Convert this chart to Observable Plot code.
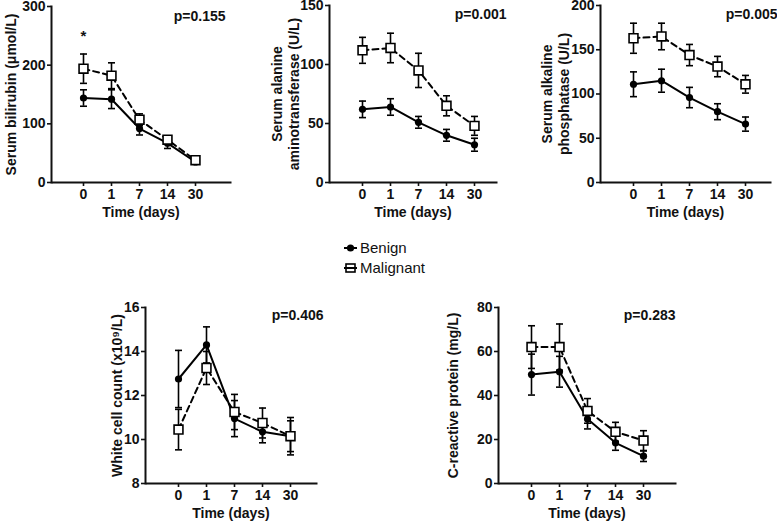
<!DOCTYPE html>
<html>
<head>
<meta charset="utf-8">
<script src="https://cdn.jsdelivr.net/npm/d3@7"></script>
<script src="https://cdn.jsdelivr.net/npm/@observablehq/plot@0.6"></script>
<style>
  html, body { margin: 0; padding: 0; background: white; }
  #chart { position: relative; width: 777px; height: 522px; overflow: hidden; font-family: Arial, "Liberation Sans", sans-serif; }
  #chart svg { position: absolute; left: 0; top: 0; pointer-events: none; }
  #legend { position: absolute; left: 344px; top: 238px; font-size: 15px; color: #111; line-height: 20px; }
  #legend div { display: flex; align-items: center; height: 20px; }
  #legend svg { position: static; margin-right: 3px; }
</style>
</head>
<body>
<div id="chart">
  <div id="legend">
    <div><svg width="13" height="10"><line x1="0" y1="5" x2="13" y2="5" stroke="black" stroke-width="2"/><circle cx="6.5" cy="5" r="3.6" fill="black"/></svg><span>Benign</span></div>
    <div><svg width="13" height="10"><rect x="2" y="1" width="9" height="8" fill="white" stroke="black" stroke-width="1.6"/><line x1="0" y1="5" x2="13" y2="5" stroke="black" stroke-width="2"/></svg><span>Malignant</span></div>
  </div>
</div>
<script>
// ---- data ----
const days = ["0", "1", "7", "14", "30"];
const seriesNames = ["Benign", "Malignant"];

const bilirubinBenign = [144, 142, 92, 67, 35];
const bilirubinBenignErr = [14, 16, 11, 9, 3];
const bilirubinMalignant = [194, 182, 107, 73, 38];
const bilirubinMalignantErr = [25, 22, 10, 5, 3];
const bilirubinTicks = [0, 100, 200, 300];

const altBenign = [62, 64, 51, 40, 32];
const altBenignErr = [7, 7, 5, 5, 5.5];
const altMalignant = [112, 114, 95, 65, 48];
const altMalignantErr = [11, 12.5, 14.5, 8.5, 8];
const altTicks = [0, 50, 100, 150];

const alpBenign = [111, 115, 96, 80, 66];
const alpBenignErr = [14, 13, 11.5, 9, 8];
const alpMalignant = [163, 165, 144, 131, 111];
const alpMalignantErr = [17, 15, 12, 11.5, 10];
const alpTicks = [0, 50, 100, 150, 200];

const wbcBenign = [12.75, 14.3, 10.95, 10.35, 10.15];
const wbcBenignErr = [1.3, 0.82, 0.82, 0.5, 0.7];
const wbcMalignant = [10.45, 13.25, 11.25, 10.75, 10.15];
const wbcMalignantErr = [0.92, 0.75, 0.8, 0.68, 0.85];
const wbcTicks = [8, 10, 12, 14, 16];

const crpBenign = [49.5, 50.8, 29.3, 18.5, 12.4];
const crpBenignErr = [9.3, 7, 4.5, 3.4, 2.4];
const crpMalignant = [62, 62, 33, 23.5, 19.5];
const crpMalignantErr = [9.7, 10.5, 5.6, 4.3, 4.5];
const crpTicks = [0, 20, 40, 60, 80];

const pValues = ["p=0.155", "p=0.001", "p=0.005", "p=0.406", "p=0.283"];
const yLabels = [
  "Serum bilirubin (\u03bcmol/L)",
  "Serum alanine\naminotransferase (U/L)",
  "Serum alkaline\nphosphatase (U/L)",
  "White cell count (x10\u2079/L)",
  "C-reactive protein (mg/L)"
];
const xLabel = "Time (days)";
const bilirubinAnnotation = [{day: "0", value: 250, text: "*"}];

// ---- layout (pixels) ----
const W = 777, H = 522;
const panels = [
  {b: bilirubinBenign, be: bilirubinBenignErr, m: bilirubinMalignant, me: bilirubinMalignantErr, ticks: bilirubinTicks,
   left: 51, right: 230, top: 6, bottom: 182, inL: 17, inR: 21, labDx: -41, pDx: -5, pDy: 10, notes: bilirubinAnnotation},
  {b: altBenign, be: altBenignErr, m: altMalignant, me: altMalignantErr, ticks: altTicks,
   left: 329, right: 496, top: 5, bottom: 182, inL: 18, inR: 7, labDx: -44, pDx: 10, pDy: 9, notes: []},
  {b: alpBenign, be: alpBenignErr, m: alpMalignant, me: alpMalignantErr, ticks: alpTicks,
   left: 600, right: 770, top: 5, bottom: 182, inL: 18, inR: 11, labDx: -45, pDx: 7, pDy: 9, notes: []},
  {b: wbcBenign, be: wbcBenignErr, m: wbcMalignant, me: wbcMalignantErr, ticks: wbcTicks,
   left: 145, right: 316, top: 307, bottom: 483, inL: 17, inR: 11, labDx: -29, pDx: 7, pDy: 8, notes: []},
  {b: crpBenign, be: crpBenignErr, m: crpMalignant, me: crpMalignantErr, ticks: crpTicks,
   left: 498, right: 675, top: 307, bottom: 483, inL: 18, inR: 17, labDx: -46, pDx: 0, pDy: 8, notes: []}
];

const cap = {
  draw(context, size) {
    const r = Math.sqrt(size / Math.PI);
    context.moveTo(-r, 0);
    context.lineTo(r, 0);
  }
};

const chart = document.getElementById("chart");

panels.forEach((p, i) => {
  const rows = (vals, errs, group) => days.map((d, k) => ({day: d, group, mean: vals[k], lo: vals[k] - errs[k], hi: vals[k] + errs[k]}));
  const benign = rows(p.b, p.be, seriesNames[0]);
  const malig = rows(p.m, p.me, seriesNames[1]);
  const all = malig.concat(benign);
  const yMin = p.ticks[0], yMax = p.ticks[p.ticks.length - 1];

  const svg = Plot.plot({
    width: W, height: H,
    marginLeft: p.left, marginRight: W - p.right, marginTop: p.top, marginBottom: H - p.bottom,
    style: {background: "transparent", fontFamily: "Arial, 'Liberation Sans', sans-serif", fontSize: "14px", fontWeight: "bold", color: "#111"},
    x: {type: "point", domain: days, insetLeft: p.inL, insetRight: p.inR},
    y: {domain: [yMin, yMax]},
    marks: [
      Plot.axisY(p.ticks, {tickSize: 4, tickPadding: 2, label: null, strokeWidth: 1.6, fontWeight: "bold", fontSize: 14}),
      Plot.axisX({tickSize: 4, tickPadding: 3, label: null, strokeWidth: 1.6, fontWeight: "bold", fontSize: 14}),
      Plot.frame({anchor: "left", strokeWidth: 2}),
      Plot.frame({anchor: "bottom", strokeWidth: 2, insetLeft: 1}),
      Plot.text([yLabels[i]], {frameAnchor: "left", rotate: -90, dx: p.labDx, textAnchor: "middle", lineAnchor: "middle", lineHeight: 1.2, fontWeight: "bold", fontSize: 14}),
      Plot.text([xLabel], {frameAnchor: "bottom", dy: 30, textAnchor: "middle", lineAnchor: "middle", fontWeight: "bold", fontSize: 14}),
      Plot.text([pValues[i]], {frameAnchor: "top-right", textAnchor: "end", lineAnchor: "middle", dx: p.pDx, dy: p.pDy, fontWeight: "bold", fontSize: 14}),
      Plot.text(p.notes, {x: "day", y: "value", text: "text", lineAnchor: "middle", fontWeight: "bold", fontSize: 15}),
      Plot.line(benign, {x: "day", y: "mean", stroke: "black", strokeWidth: 2}),
      Plot.line(malig, {x: "day", y: "mean", stroke: "black", strokeWidth: 2, strokeDasharray: "6,4"}),
      Plot.ruleX(all, {x: "day", y1: "lo", y2: "hi", stroke: "black", strokeWidth: 1.6}),
      Plot.dot(all, {x: "day", y: "lo", symbol: cap, r: 3.5, stroke: "black", strokeWidth: 1.6, fill: "none"}),
      Plot.dot(all, {x: "day", y: "hi", symbol: cap, r: 3.5, stroke: "black", strokeWidth: 1.6, fill: "none"}),
      Plot.dot(benign, {x: "day", y: "mean", r: 3.6, fill: "black", stroke: "none"}),
      Plot.dot(malig, {x: "day", y: "mean", symbol: "square", r: 5, fill: "white", stroke: "black", strokeWidth: 1.6})
    ]
  });
  chart.appendChild(svg);
});
</script>
</body>
</html>
